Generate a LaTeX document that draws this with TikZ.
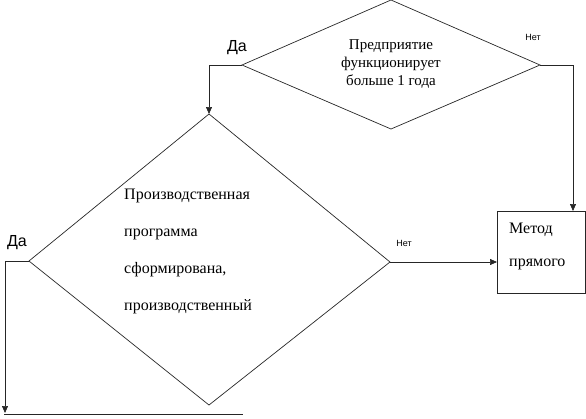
\documentclass[tikz,border=0pt]{standalone}
\usepackage{fontspec}
\setmainfont{Liberation Serif}
\newfontfamily\labfont{Liberation Sans}
\usetikzlibrary{arrows.meta}
\begin{document}
\begin{tikzpicture}[x=1pt,y=-1pt,
  line/.style={line width=0.7pt, draw=black!85},
  arr/.style={line, -{Triangle[length=7pt,width=6pt]}},
  yes/.style={font=\labfont\fontsize{16}{18}\selectfont},
  no/.style={font=\labfont\fontsize{9}{10}\selectfont},
  txt/.style={font=\fontsize{15}{18}\selectfont, inner sep=0pt}]
\useasboundingbox (0,0) rectangle (586,418);
% top diamond
\coordinate (d1t) at (391,0);
\coordinate (d1l) at (242,65);
\coordinate (d1r) at (540,65);
\coordinate (d1b) at (391,129);
\draw[line] (d1t) -- (d1r) -- (d1b) -- (d1l) -- cycle;
\node[txt, align=center] (t1) at (391,64) {Предприятие\\функционирует\\больше 1 года};
% second diamond
\coordinate (d2t) at (209,114);
\coordinate (d2l) at (29,261);
\coordinate (d2r) at (390,262);
\coordinate (d2b) at (209,405);
\draw[line] (d2t) -- (d2r) -- (d2b) -- (d2l) -- cycle;
\node[txt, align=left, anchor=west, font=\fontsize{16}{37}\selectfont] (t2) at (124,251) {Производственная\\программа\\сформирована,\\производственный};
% box
\coordinate (b1) at (497,211);
\coordinate (b2) at (585.5,293);
\draw[line] (b1) rectangle (b2);
\node[txt, align=left, anchor=west, font=\fontsize{16}{33}\selectfont] (t3) at (509,246) {Метод\\прямого};
\coordinate (boxin) at (573,211);
\coordinate (boxw) at (497,262);
% connectors
\draw[arr] (d1l) -| (d2t);
\draw[arr] (d1r) -| (boxin);
\draw[arr] (d2r) -- (boxw);
\coordinate (lend) at (5,413);
\coordinate (bend) at (243,414);
\draw[arr] (d2l) -| (lend);
\draw[line] (4,414) -- (bend);
% labels
\node[yes] (y1) at (237,48) {Да};
\node[yes] (y2) at (17,243) {Да};
\node[no] (n1) at (533,37) {Нет};
\node[no] (n2) at (404,243) {Нет};
\end{tikzpicture}
\end{document}
